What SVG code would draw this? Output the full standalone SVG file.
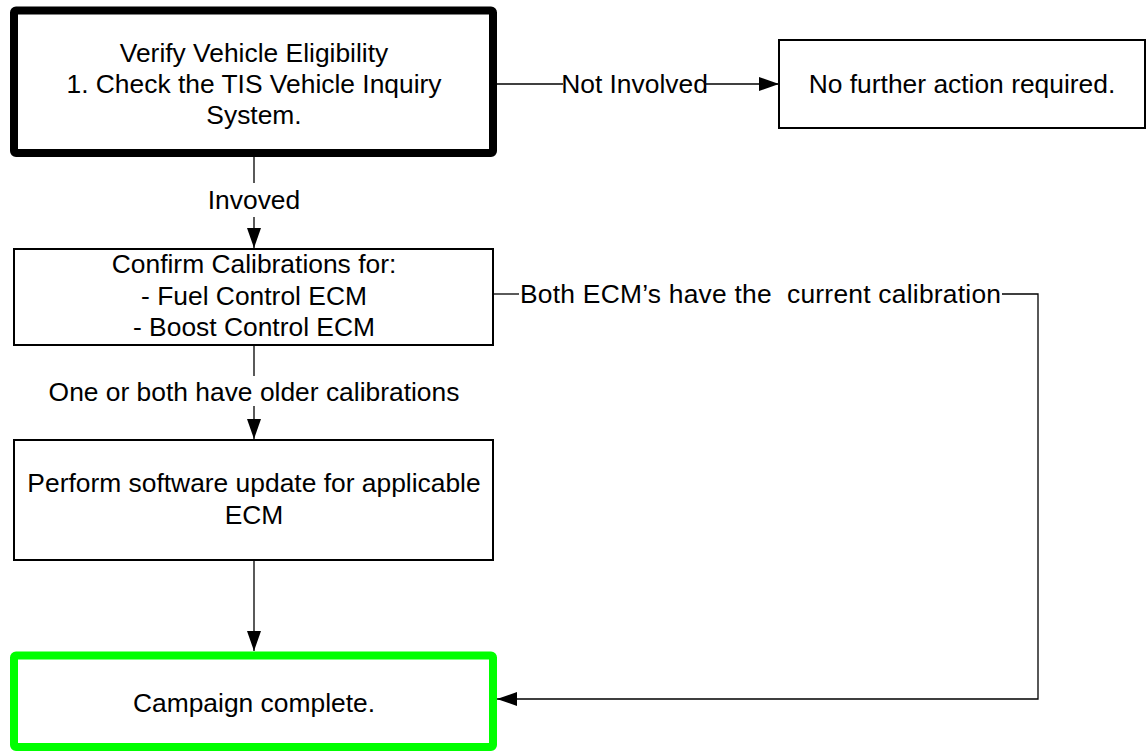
<svg xmlns="http://www.w3.org/2000/svg" width="1146" height="755" viewBox="0 0 1146 755">
<style>
text{font-family:"Liberation Sans",Arial,sans-serif;font-size:26.4px;fill:#000;text-anchor:middle}
.box{fill:#fff;stroke:#000;stroke-width:2}
.thick{fill:#fff;stroke:#000;stroke-width:8;stroke-linejoin:round}
.green{fill:#fff;stroke:#00ff00;stroke-width:8;stroke-linejoin:round}
.ln{fill:none;stroke:#000;stroke-width:1.3}
</style>
<defs>
<marker id="arr" markerWidth="20" markerHeight="14" refX="20" refY="7" orient="auto" markerUnits="userSpaceOnUse">
<path d="M0,0 L20,7 L0,14 Z" fill="#000"/>
</marker>
</defs>
<rect width="1146" height="755" fill="#fff"/>
<g id="connectors">
<path class="ln" d="M497,84 H563"/>
<path class="ln" d="M706,84 H779" marker-end="url(#arr)"/>
<text x="634.5" y="93">Not Involved</text>
<path class="ln" d="M254,157 V183"/>
<path class="ln" d="M254,217 V248" marker-end="url(#arr)"/>
<text x="254" y="209">Invoved</text>
<path class="ln" d="M254,346 V376"/>
<path class="ln" d="M254,406 V439" marker-end="url(#arr)"/>
<text x="254" y="401">One or both have older calibrations</text>
<path class="ln" d="M494,294 H519"/>
<path class="ln" d="M1002,294 H1038 V699 H497" marker-end="url(#arr)"/>
<text x="760.5" y="303" xml:space="preserve" textLength="481" lengthAdjust="spacing">Both ECM’s have the  current calibration</text>
<path class="ln" d="M254,560 V651" marker-end="url(#arr)"/>
</g>
<g id="verify">
<rect class="thick" x="14" y="10.5" width="479" height="142.5" rx="2"/>
<text x="254" y="62">Verify Vehicle Eligibility</text>
<text x="254" y="93">1. Check the TIS Vehicle Inquiry</text>
<text x="254" y="124">System.</text>
</g>
<g id="nofurther">
<rect class="box" x="779" y="40" width="366" height="88"/>
<text x="962" y="93">No further action required.</text>
</g>
<g id="confirm">
<rect class="box" x="14" y="249" width="479" height="96"/>
<text x="254" y="273">Confirm Calibrations for:</text>
<text x="254" y="304.5">- Fuel Control ECM</text>
<text x="254" y="336">- Boost Control ECM</text>
</g>
<g id="perform">
<rect class="box" x="14" y="440" width="479" height="120"/>
<text x="254" y="492">Perform software update for applicable</text>
<text x="254" y="523.5">ECM</text>
</g>
<g id="campaign">
<rect class="green" x="14" y="655.5" width="479" height="91.5" rx="2"/>
<text x="254" y="712">Campaign complete.</text>
</g>
</svg>
